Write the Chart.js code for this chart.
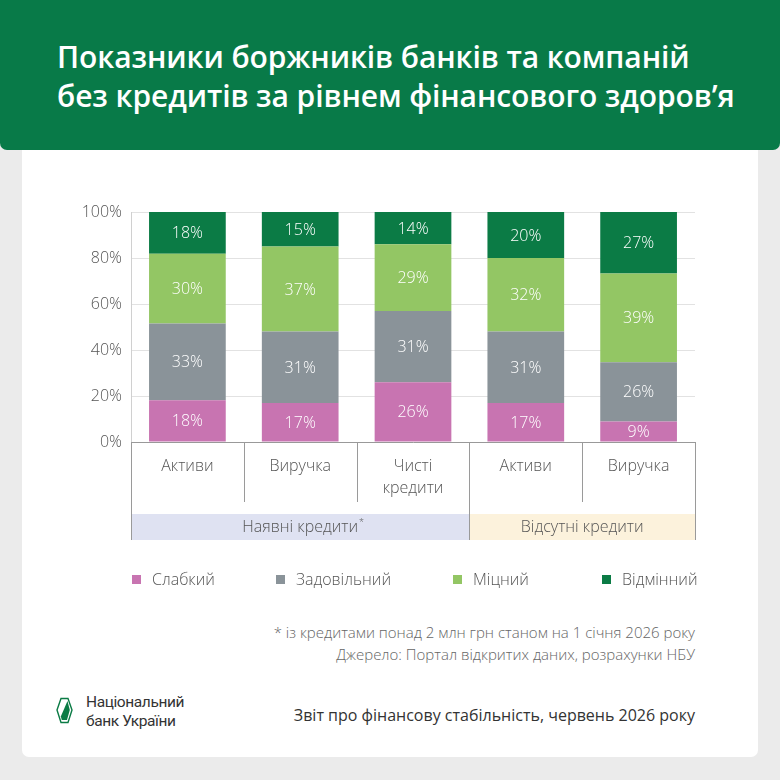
<!DOCTYPE html>
<html lang="uk">
<head>
<meta charset="utf-8">
<title>Показники боржників</title>
<script src="https://cdn.jsdelivr.net/npm/chart.js@4.4.1/dist/chart.umd.min.js"></script>
<style>
  html, body { margin: 0; padding: 0; }
  body { width: 780px; height: 780px; background: #ebebeb; position: relative; overflow: hidden;
         font-family: 'Open Sans', 'Noto Sans', sans-serif; }
  .header { position: absolute; left: 0; top: 0; width: 780px; height: 150px; background: #087a48;
            border-radius: 0 0 7px 7px; z-index: 2; }
  .title { position: absolute; left: 57px; top: 37px; color: #fff; font-size: 30px; font-weight: 600;
           line-height: 39px; letter-spacing: -0.1px; }
  .card { position: absolute; left: 22px; top: 140px; width: 736px; height: 617px; background: #fff;
          border-radius: 0 0 7px 7px; }
  #chart { position: absolute; left: 22px; top: 150px; }
  .legend-item { position: absolute; top: 569px; font-size: 16px; font-weight: 300; color: #555; line-height: 20px; }
  .legend-item i { position: absolute; top: 6px; width: 9px; height: 9px; }
  .note { position: absolute; right: 85px; font-size: 15px; font-weight: 300; color: #666; line-height: 20px; }
  .report { position: absolute; right: 85px; top: 704px; font-size: 16px; color: #333; line-height: 22px; }
  .logo { position: absolute; left: 55px; top: 696px; }
  .logo-text { position: absolute; left: 86px; top: 693px; font-family: Roboto, sans-serif; font-size: 15.5px;
               color: #333; line-height: 19px; letter-spacing: -0.4px; }
</style>
</head>
<body>
<div class="card"></div>
<div class="header">
  <div class="title">Показники боржників банків та компаній<br>без кредитів за рівнем фінансового здоров’я</div>
</div>
<canvas id="chart" width="736" height="420"></canvas>
<div id="legend"></div>
<div class="note" style="top:622px">* із кредитами понад 2 млн грн станом на 1 січня 2026 року</div>
<div class="note" style="top:644px">Джерело: Портал відкритих даних, розрахунки НБУ</div>
<svg class="logo" width="20" height="30" viewBox="0 0 20 30">
  <polygon points="2,14 6,2.5 13,2.5 17,14 13,26.5 6,26.5" fill="none" stroke="#0b7b45" stroke-width="1.4"/>
  <polygon points="12.5,5 14.8,14 12,24 6.8,24 5.8,20.5" fill="#0b7b45"/>
</svg>
<div class="logo-text">Національний<br>банк України</div>
<div class="report">Звіт про фінансову стабільність, червень 2026 року</div>

<script>
const categories = ['Активи', 'Виручка', ['Чисті', 'кредити'], 'Активи', 'Виручка'];
const groupNames = ['Наявні кредити', 'Відсутні кредити'];
const groupSizes = [3, 2];
const groupMarks = ['*', ''];

const seriesNames = ['Слабкий', 'Задовільний', 'Міцний', 'Відмінний'];
const weak = [18, 17, 26, 17, 9];
const satisfactory = [33, 31, 31, 31, 26];
const strong = [30, 37, 29, 32, 39];
const excellent = [18, 15, 14, 20, 27];
const yTicks = [0, 20, 40, 60, 80, 100];

const seriesColors = ['#c874b1', '#8a9399', '#93c664', '#0b7b45'];
const groupColors = ['#dfe2f2', '#fcf2dc'];

const series = [weak, satisfactory, strong, excellent];
const totals = categories.map((c, i) => series.reduce((s, arr) => s + arr[i], 0));

// legend
const legendX = [132, 276, 453, 602];
const legend = document.getElementById('legend');
seriesNames.forEach(function (name, i) {
    const item = document.createElement('div');
    item.className = 'legend-item';
    item.style.left = (legendX[i] + 20) + 'px';
    item.innerHTML = '<i style="left:-20px;background:' + seriesColors[i] + '"></i>' + name;
    legend.appendChild(item);
});

const segmentLabels = {
    id: 'segmentLabels',
    afterDatasetsDraw(chart) {
        const ctx = chart.ctx;
        ctx.save();
        ctx.font = '300 16px "Open Sans"';
        ctx.fillStyle = '#ffffff';
        ctx.textAlign = 'center';
        ctx.textBaseline = 'middle';
        chart.data.datasets.forEach(function (ds, di) {
            chart.getDatasetMeta(di).data.forEach(function (bar, i) {
                ctx.fillText(series[di][i] + '%', bar.x, (bar.y + bar.base) / 2 + 1);
            });
        });
        ctx.restore();
    }
};

const groupBands = {
    id: 'groupBands',
    afterDraw(chart) {
        const ctx = chart.ctx;
        const area = chart.chartArea;
        const step = (area.right - area.left) / categories.length;
        const bandTop = area.bottom + 72, bandBottom = area.bottom + 98;
        ctx.save();
        let start = 0;
        const edges = [area.left];
        groupSizes.forEach(function (n, g) {
            const x0 = area.left + start * step;
            const x1 = area.left + (start + n) * step;
            ctx.fillStyle = groupColors[g];
            ctx.fillRect(x0, bandTop, x1 - x0, bandBottom - bandTop);
            ctx.font = '300 16px "Open Sans"';
            ctx.fillStyle = '#555';
            ctx.textAlign = 'center';
            ctx.textBaseline = 'middle';
            const cx = (x0 + x1) / 2;
            ctx.fillText(groupNames[g], cx, (bandTop + bandBottom) / 2);
            if (groupMarks[g]) {
                const w = ctx.measureText(groupNames[g]).width;
                ctx.font = '300 9px "Open Sans"';
                ctx.textAlign = 'left';
                ctx.fillText(groupMarks[g], cx + w / 2 + 1, (bandTop + bandBottom) / 2 - 5);
            }
            start += n;
            edges.push(x1);
        });
        ctx.strokeStyle = '#9a9a9a';
        ctx.lineWidth = 1;
        for (let i = 0; i <= categories.length; i++) {
            const px = Math.round(area.left + i * step) + 0.5;
            const long = edges.some(e => Math.abs(e - (area.left + i * step)) < 0.5);
            ctx.beginPath();
            ctx.moveTo(px, area.bottom);
            ctx.lineTo(px, long ? bandBottom : area.bottom + 60);
            ctx.stroke();
        }
        ctx.restore();
    }
};

new Chart(document.getElementById('chart'), {
    type: 'bar',
    data: {
        labels: categories,
        datasets: series.map(function (arr, i) {
            return {
                label: seriesNames[i],
                data: arr.map((v, j) => v / totals[j] * 100),
                backgroundColor: seriesColors[i],
                borderWidth: 0,
                barPercentage: 0.68,
                categoryPercentage: 1
            };
        })
    },
    options: {
        responsive: false,
        animation: false,
        devicePixelRatio: 1,
        layout: { padding: { top: 62, right: 63, bottom: 28, left: 0 } },
        plugins: {
            legend: { display: false },
            tooltip: { enabled: false }
        },
        scales: {
            x: {
                stacked: true,
                afterFit(scale) { scale.height = 100; },
                grid: { display: false, drawTicks: false },
                border: { display: true, color: '#999999' },
                ticks: {
                    color: '#555',
                    padding: 14,
                    font: { family: 'Open Sans', size: 16, weight: 300, lineHeight: 1.35 }
                }
            },
            y: {
                stacked: true,
                min: 0,
                max: 100,
                afterFit(scale) { scale.width = 109; },
                afterBuildTicks(scale) { scale.ticks = yTicks.map(v => ({ value: v })); },
                grid: { color: '#e2e2e2', drawTicks: false },
                border: { display: true, color: '#d0d0d0' },
                ticks: {
                    color: '#555',
                    padding: 9,
                    font: { family: 'Open Sans', size: 16, weight: 300 },
                    callback: v => v + '%'
                }
            }
        }
    },
    plugins: [segmentLabels, groupBands]
});
</script>
</body>
</html>
